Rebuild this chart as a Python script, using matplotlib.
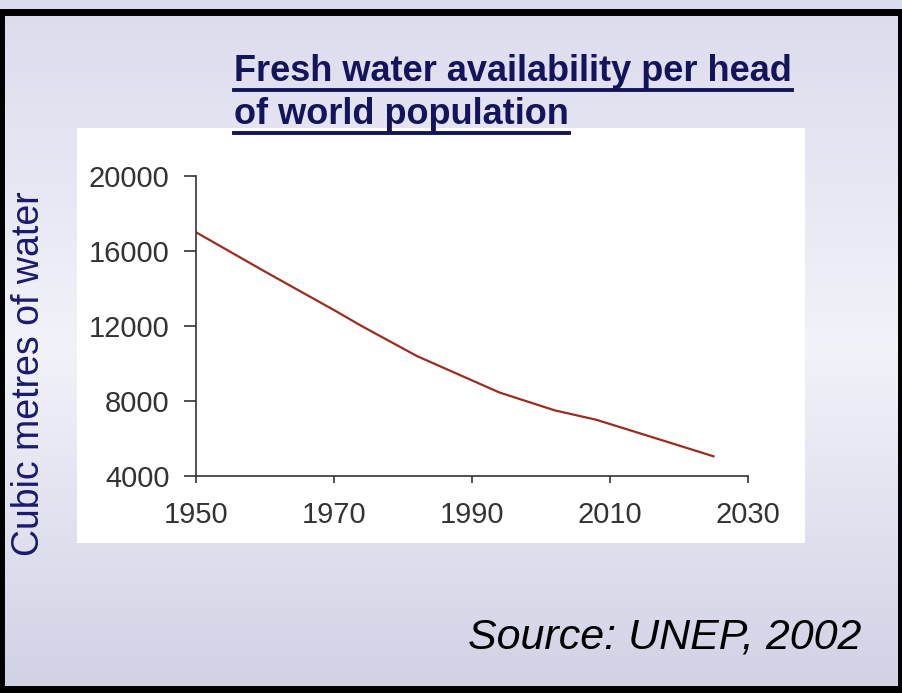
import matplotlib.pyplot as plt
import numpy as np
from matplotlib.patches import Rectangle

plt.rcParams['font.family'] = ['Liberation Sans', 'DejaVu Sans']

years = [1950, 1960, 1970, 1974, 1982, 1990, 1994, 2002, 2008, 2015, 2025]
water = [17000, 14900, 12850, 12000, 10400, 9100, 8450, 7500, 7000, 6200, 5050]

title = "Fresh water availability per head\nof world population"
ylabel = "Cubic metres of water"
source = "Source: UNEP, 2002"
yticks = [4000, 8000, 12000, 16000, 20000]
xticks = [1950, 1970, 1990, 2010, 2030]

W, H = 903, 693
fig = plt.figure(figsize=(W / 100, H / 100), dpi=100)

# gradient background
bg = fig.add_axes([0, 0, 1, 1])
t = np.linspace(0, 1, 256)
top = np.array([0.86, 0.86, 0.93])
mid = np.array([0.95, 0.95, 0.98])
bot = np.array([0.82, 0.82, 0.90])
col = np.where(t[:, None] < 0.5, top + (mid - top) * (t[:, None] / 0.5),
               mid + (bot - mid) * ((t[:, None] - 0.5) / 0.5))
img = np.repeat(col[:, None, :], 2, axis=1)
bg.imshow(img, aspect='auto', extent=[0, W, H, 0])
bg.set_xlim(0, W)
bg.set_ylim(H, 0)
bg.axis('off')
# black frame
bg.add_patch(Rectangle((1, 12), W - 3, 677, fill=False, ec='black', lw=5))
# white chart panel
bg.add_patch(Rectangle((77, 128), 728, 415, fc='white', ec='none'))

# chart
ax = fig.add_axes([196 / W, 1 - 476 / H, 552 / W, 300 / H])
ax.patch.set_alpha(0)
ax.plot(years, water, color='#9b2d20', lw=1.6)
ax.set_xlim(1950, 2030)
ax.set_ylim(4000, 20000)
ax.set_xticks(xticks)
ax.set_yticks(yticks)
ax.spines['top'].set_visible(False)
ax.spines['right'].set_visible(False)
for s in ['left', 'bottom']:
    ax.spines[s].set_color('#333333')
    ax.spines[s].set_linewidth(1.2)
ax.tick_params(axis='y', length=9, width=1.2, color='#333333', labelsize=21,
               labelcolor='#333333', pad=10)
ax.tick_params(axis='x', length=5, width=1.2, color='#333333', labelsize=21,
               labelcolor='#333333', pad=13)

fig.text(29 / W, 1 - 374 / H, ylabel, rotation=90, ha='center', va='center',
         fontsize=27, color='#1a1a6e')
fig.text(468 / W, 1 - 649 / H, source, fontsize=31, style='italic',
         color='black', ha='left', va='baseline')

# underlined title, one text per line
navy = '#14145a'
fig.canvas.draw()
r = fig.canvas.get_renderer()
for i, line in enumerate(title.split('\n')):
    yb = [81, 124][i]
    tx = fig.text(234 / W, 1 - yb / H, line, fontsize=26, fontweight='bold',
                  color=navy, ha='left', va='baseline')
    bb = tx.get_window_extent(renderer=r)
    x0, x1 = bb.x0 / W, bb.x1 / W
    yl = 1 - (yb + 9) / H
    fig.add_artist(plt.Line2D([x0, x1], [yl, yl], color=navy, lw=2.8))

fig.savefig('out.png', dpi=100)
